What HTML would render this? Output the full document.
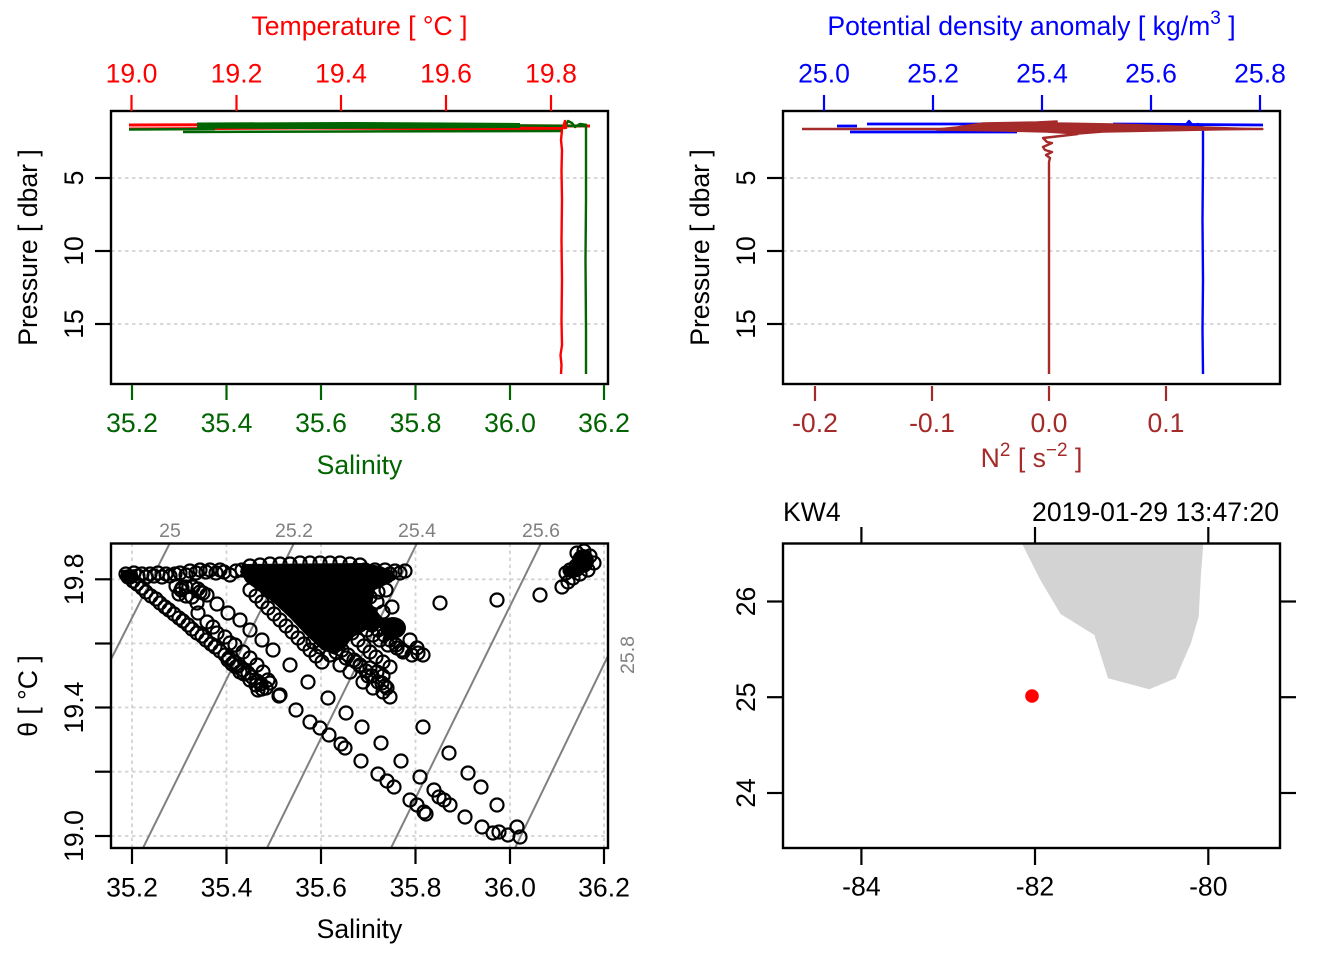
<!DOCTYPE html>
<html><head><meta charset="utf-8"><style>
html,body{margin:0;padding:0;background:#fff;}
svg{display:block;}
text{font-family:"Liberation Sans",Arial,sans-serif;font-size:26.6px;}
text.iso{font-size:19.5px;fill:#808080;}
</style></head><body>
<svg width="1344" height="960" viewBox="0 0 1344 960" xmlns="http://www.w3.org/2000/svg">
<rect width="1344" height="960" fill="#fff"/>
<defs>
<clipPath id="cTS"><rect x="111" y="543.5" width="497" height="304.5"/></clipPath>
<clipPath id="cTL"><rect x="111" y="111" width="497" height="273"/></clipPath>
<clipPath id="cTR"><rect x="783" y="111" width="497" height="273"/></clipPath>
<clipPath id="cMap"><rect x="783" y="543.5" width="497" height="304.5"/></clipPath>
</defs>

<!-- ================= TOP LEFT ================= -->
<g stroke="#D3D3D3" stroke-width="1.8" stroke-dasharray="3.5,3.5">
<line x1="111" y1="178" x2="608" y2="178"/><line x1="111" y1="251" x2="608" y2="251"/><line x1="111" y1="324" x2="608" y2="324"/>
</g>
<g clip-path="url(#cTL)" fill="none" stroke-linejoin="round">
<path d="M129,125 L300,124.5 L450,125.5 L590,126" stroke="#FF0000" stroke-width="3"/>
<path d="M129,129 L300,128 L420,128.5 L563,130" stroke="#FF0000" stroke-width="3"/>
<path d="M420,127 L500,127.5 L565,128" stroke="#FF0000" stroke-width="2.5"/>
<polygon points="197,122.5 350,122 450,122.5 520,123 520,128 430,128.5 300,129 197,128.5" fill="#006400" stroke="none"/>
<path d="M129,129.5 L215,129" stroke="#006400" stroke-width="2.5"/>
<path d="M183,132 L350,131.5 L563,131" stroke="#006400" stroke-width="2.5"/>
<path d="M433,125 L520,125.5 L587,126" stroke="#006400" stroke-width="2.5"/>
<path d="M565,127 L568,121 L572,123 L575,127 L580,124 L587,125" stroke="#006400" stroke-width="2.5"/>
<path d="M563,128 L565,121 L566,129" stroke="#FF0000" stroke-width="2.5"/>
<polyline points="562,130 561,140 562,150 561.5,170 562,200 561.5,240 562,280 561.5,320 562,345 560.5,355 561.5,365 561,374" stroke="#FF0000" stroke-width="2.4"/>
<polyline points="586,126 586,200 585.5,260 586,330 586,374" stroke="#006400" stroke-width="2.4"/>
</g>
<rect x="111" y="111" width="497" height="273" fill="none" stroke="#000" stroke-width="2.4"/>
<g stroke="#FF0000" stroke-width="2.2">
<line x1="131.5" y1="95" x2="131.5" y2="111"/><line x1="236.5" y1="95" x2="236.5" y2="111"/><line x1="341" y1="95" x2="341" y2="111"/><line x1="446" y1="95" x2="446" y2="111"/><line x1="551" y1="95" x2="551" y2="111"/>
</g>
<g fill="#FF0000" text-anchor="middle">
<text x="131.5" y="82.7">19.0</text><text x="236.5" y="82.7">19.2</text><text x="341" y="82.7">19.4</text><text x="446" y="82.7">19.6</text><text x="551" y="82.7">19.8</text>
<text x="359.5" y="35">Temperature [ °C ]</text>
</g>
<g stroke="#006400" stroke-width="2.2">
<line x1="132" y1="385" x2="132" y2="400"/><line x1="226.5" y1="385" x2="226.5" y2="400"/><line x1="321" y1="385" x2="321" y2="400"/><line x1="415.5" y1="385" x2="415.5" y2="400"/><line x1="510" y1="385" x2="510" y2="400"/><line x1="604" y1="385" x2="604" y2="400"/>
</g>
<g fill="#006400" text-anchor="middle">
<text x="132" y="432">35.2</text><text x="226.5" y="432">35.4</text><text x="321" y="432">35.6</text><text x="415.5" y="432">35.8</text><text x="510" y="432">36.0</text><text x="604" y="432">36.2</text>
<text x="359.5" y="474">Salinity</text>
</g>
<g stroke="#000" stroke-width="2.2">
<line x1="95" y1="178" x2="111" y2="178"/><line x1="95" y1="251" x2="111" y2="251"/><line x1="95" y1="324" x2="111" y2="324"/>
</g>
<g text-anchor="middle">
<text transform="translate(83,178) rotate(-90)">5</text>
<text transform="translate(83,251) rotate(-90)">10</text>
<text transform="translate(83,324) rotate(-90)">15</text>
<text transform="translate(37,247.5) rotate(-90)">Pressure [ dbar ]</text>
</g>

<!-- ================= TOP RIGHT ================= -->
<g stroke="#D3D3D3" stroke-width="1.8" stroke-dasharray="3.5,3.5">
<line x1="783" y1="178" x2="1280" y2="178"/><line x1="783" y1="251" x2="1280" y2="251"/><line x1="783" y1="324" x2="1280" y2="324"/>
</g>
<g clip-path="url(#cTR)" fill="none" stroke-linejoin="round">
<path d="M837,126 L857,126" stroke="#0000FF" stroke-width="2.8"/>
<path d="M867,124 L983,124" stroke="#0000FF" stroke-width="2.8"/>
<path d="M850,132 L1017,132" stroke="#0000FF" stroke-width="2.8"/>
<path d="M1113,124 L1263,125" stroke="#0000FF" stroke-width="2.8"/>
<path d="M1170,126 L1200,126" stroke="#0000FF" stroke-width="2.4"/>
<path d="M1185,126 L1189,121 L1193,126 L1198,124 L1203,127" stroke="#0000FF" stroke-width="2.4"/>
<polyline points="1203,127 1203,160 1202.5,220 1203,280 1202.5,330 1203,374" stroke="#0000FF" stroke-width="2.4"/>
<path d="M802,129 L1263,129" stroke="#A52A2A" stroke-width="2.6"/>
<polygon points="937,129 957,127 983,123 1037,122 1057,121 1057,123 1113,124 1263,129 1103,132 1078,134 1047,132 1003,131 937,130" fill="#A52A2A" stroke="#A52A2A" stroke-width="1.5"/>
<polyline points="1078,134 1043,138 1047,142 1052,143 1043,147 1045,150 1052,152 1046,155 1050,158 1049,162 1049,374" stroke="#A52A2A" stroke-width="2.4"/>
</g>
<rect x="783" y="111" width="497" height="273" fill="none" stroke="#000" stroke-width="2.4"/>
<g stroke="#0000FF" stroke-width="2.2">
<line x1="824" y1="95" x2="824" y2="111"/><line x1="933" y1="95" x2="933" y2="111"/><line x1="1042" y1="95" x2="1042" y2="111"/><line x1="1151" y1="95" x2="1151" y2="111"/><line x1="1260" y1="95" x2="1260" y2="111"/>
</g>
<g fill="#0000FF" text-anchor="middle">
<text x="824" y="82.7">25.0</text><text x="933" y="82.7">25.2</text><text x="1042" y="82.7">25.4</text><text x="1151" y="82.7">25.6</text><text x="1260" y="82.7">25.8</text>
<text x="1031.5" y="35">Potential density anomaly [ kg/m<tspan dy="-11" font-size="19">3</tspan><tspan dy="11"> ]</tspan></text>
</g>
<g stroke="#A52A2A" stroke-width="2.2">
<line x1="815" y1="386" x2="815" y2="401"/><line x1="932" y1="386" x2="932" y2="401"/><line x1="1049" y1="386" x2="1049" y2="401"/><line x1="1166" y1="386" x2="1166" y2="401"/>
</g>
<g fill="#A52A2A" text-anchor="middle">
<text x="815" y="432">-0.2</text><text x="932" y="432">-0.1</text><text x="1049" y="432">0.0</text><text x="1166" y="432">0.1</text>
<text x="1031.5" y="467">N<tspan dy="-11" font-size="19">2</tspan><tspan dy="11"> [ s</tspan><tspan dy="-11" font-size="19">−2</tspan><tspan dy="11"> ]</tspan></text>
</g>
<g stroke="#000" stroke-width="2.2">
<line x1="767" y1="178" x2="783" y2="178"/><line x1="767" y1="251" x2="783" y2="251"/><line x1="767" y1="324" x2="783" y2="324"/>
</g>
<g text-anchor="middle">
<text transform="translate(755,178) rotate(-90)">5</text>
<text transform="translate(755,251) rotate(-90)">10</text>
<text transform="translate(755,324) rotate(-90)">15</text>
<text transform="translate(709,247.5) rotate(-90)">Pressure [ dbar ]</text>
</g>

<!-- ================= TS ================= -->
<g stroke="#D3D3D3" stroke-width="1.8" stroke-dasharray="3.5,3.5">
<line x1="132" y1="543.5" x2="132" y2="848"/><line x1="226.5" y1="543.5" x2="226.5" y2="848"/><line x1="321" y1="543.5" x2="321" y2="848"/><line x1="415.5" y1="543.5" x2="415.5" y2="848"/><line x1="510" y1="543.5" x2="510" y2="848"/><line x1="604" y1="543.5" x2="604" y2="848"/>
<line x1="111" y1="579.3" x2="608" y2="579.3"/><line x1="111" y1="643.5" x2="608" y2="643.5"/><line x1="111" y1="707.5" x2="608" y2="707.5"/><line x1="111" y1="771.7" x2="608" y2="771.7"/><line x1="111" y1="836" x2="608" y2="836"/>
</g>
<g clip-path="url(#cTS)" stroke="#808080" stroke-width="2">
<line x1="175" y1="533" x2="100" y2="681"/>
<line x1="299" y1="533" x2="143" y2="848"/>
<line x1="422" y1="533" x2="267" y2="848"/>
<line x1="546" y1="533" x2="391" y2="848"/>
<line x1="620" y1="631" x2="515" y2="848"/>
</g>
<g text-anchor="middle">
<text class="iso" x="170" y="537">25</text><text class="iso" x="294" y="537">25.2</text><text class="iso" x="417" y="537">25.4</text><text class="iso" x="541" y="537">25.6</text>
<text class="iso" transform="translate(634,655) rotate(-90)">25.8</text>
</g>
<g clip-path="url(#cTS)">
<polygon points="121,570 137,569 139,580 131,585 121,580" fill="#000"/>
<polygon points="242,564 365,563 380,566 395,572 392,582 375,590 372,605 380,615 385,620 380,628 365,630 352,638 345,648 335,655 322,650 305,634 290,618 275,604 260,592 246,582 240,572" fill="#000"/>
<ellipse cx="393" cy="628" rx="13" ry="11" fill="#000"/>
<ellipse cx="583" cy="561" rx="11" ry="12" fill="#000"/>
<ellipse cx="574" cy="571" rx="10" ry="6.5" fill="#000"/>
<g fill="none" stroke="#000" stroke-width="2.2">
<!-- top band left -->
<circle cx="126" cy="574" r="6.5"/><circle cx="130" cy="577" r="6.5"/><circle cx="134" cy="573" r="6.5"/><circle cx="138" cy="576" r="6.5"/><circle cx="142" cy="574" r="6.5"/><circle cx="146" cy="577" r="6.5"/><circle cx="150" cy="574" r="6.5"/><circle cx="154" cy="576" r="6.5"/><circle cx="158" cy="573" r="6.5"/><circle cx="162" cy="577" r="6.5"/><circle cx="166" cy="574" r="6.5"/><circle cx="170" cy="576" r="6.5"/><circle cx="175" cy="574" r="6.5"/><circle cx="180" cy="573" r="6.5"/><circle cx="186" cy="575" r="6.5"/><circle cx="190" cy="571" r="6.5"/><circle cx="196" cy="573" r="6.5"/><circle cx="200" cy="570" r="6.5"/><circle cx="206" cy="572" r="6.5"/><circle cx="210" cy="570" r="6.5"/><circle cx="216" cy="573" r="6.5"/><circle cx="220" cy="570" r="6.5"/><circle cx="224" cy="572" r="6.5"/><circle cx="230" cy="575" r="6.5"/><circle cx="236" cy="571" r="6.5"/><circle cx="242" cy="570" r="6.5"/>
<!-- small cluster -->
<circle cx="176" cy="586" r="6.5"/><circle cx="181" cy="590" r="6.5"/><circle cx="186" cy="587" r="6.5"/><circle cx="193" cy="587" r="6.5"/><circle cx="198" cy="589" r="6.5"/><circle cx="203" cy="593" r="6.5"/><circle cx="179" cy="594" r="6.5"/><circle cx="186" cy="596" r="6.5"/>
<!-- chain A -->
<circle cx="128" cy="577" r="6.5"/><circle cx="133" cy="581" r="6.5"/><circle cx="137" cy="584" r="6.5"/><circle cx="142" cy="588" r="6.5"/><circle cx="146" cy="592" r="6.5"/><circle cx="151" cy="596" r="6.5"/><circle cx="156" cy="599" r="6.5"/><circle cx="160" cy="603" r="6.5"/><circle cx="165" cy="607" r="6.5"/><circle cx="169" cy="610" r="6.5"/><circle cx="174" cy="614" r="6.5"/><circle cx="179" cy="618" r="6.5"/><circle cx="183" cy="621" r="6.5"/><circle cx="188" cy="625" r="6.5"/><circle cx="192" cy="629" r="6.5"/><circle cx="197" cy="633" r="6.5"/><circle cx="202" cy="636" r="6.5"/><circle cx="206" cy="640" r="6.5"/><circle cx="211" cy="644" r="6.5"/><circle cx="215" cy="647" r="6.5"/><circle cx="220" cy="651" r="6.5"/><circle cx="225" cy="655" r="6.5"/><circle cx="229" cy="658" r="6.5"/><circle cx="234" cy="662" r="6.5"/><circle cx="238" cy="666" r="6.5"/><circle cx="243" cy="670" r="6.5"/><circle cx="248" cy="673" r="6.5"/><circle cx="252" cy="677" r="6.5"/><circle cx="257" cy="681" r="6.5"/><circle cx="261" cy="684" r="6.5"/><circle cx="266" cy="688" r="6.5"/>
<circle cx="228" cy="660" r="6.5"/><circle cx="236" cy="667" r="6.5"/><circle cx="244" cy="674" r="6.5"/><circle cx="250" cy="680" r="6.5"/><circle cx="256" cy="685" r="6.5"/><circle cx="262" cy="689" r="6.5"/><circle cx="240" cy="672" r="6.5"/><circle cx="232" cy="664" r="6.5"/>
<!-- chain B upper -->
<circle cx="182" cy="588" r="6.5"/><circle cx="192" cy="597" r="6.5"/><circle cx="197" cy="603" r="6.5"/><circle cx="198" cy="613" r="6.5"/><circle cx="207" cy="622" r="6.5"/><circle cx="213" cy="627" r="6.5"/><circle cx="217" cy="633" r="6.5"/><circle cx="225" cy="637" r="6.5"/><circle cx="230" cy="643" r="6.5"/><circle cx="235" cy="645" r="6.5"/><circle cx="243" cy="652" r="6.5"/><circle cx="250" cy="658" r="6.5"/><circle cx="257" cy="665" r="6.5"/><circle cx="263" cy="672" r="6.5"/><circle cx="268" cy="680" r="6.5"/><circle cx="270" cy="683" r="6.5"/><circle cx="280" cy="695" r="6.5"/>
<!-- chain C upper -->
<circle cx="200" cy="592" r="6.5"/><circle cx="207" cy="595" r="6.5"/><circle cx="217" cy="604" r="6.5"/><circle cx="228" cy="613" r="6.5"/><circle cx="240" cy="620" r="6.5"/><circle cx="250" cy="630" r="6.5"/><circle cx="262" cy="640" r="6.5"/><circle cx="273" cy="650" r="6.5"/><circle cx="290" cy="665" r="6.5"/><circle cx="308" cy="682" r="6.5"/><circle cx="328" cy="698" r="6.5"/>
<!-- chain C lower -->
<circle cx="346" cy="713" r="6.5"/><circle cx="362" cy="727" r="6.5"/><circle cx="381" cy="743" r="6.5"/><circle cx="401" cy="761" r="6.5"/><circle cx="420" cy="777" r="6.5"/><circle cx="434" cy="790" r="6.5"/><circle cx="439" cy="797" r="6.5"/><circle cx="444" cy="800" r="6.5"/><circle cx="450" cy="805" r="6.5"/><circle cx="465" cy="817" r="6.5"/><circle cx="482" cy="827" r="6.5"/><circle cx="493" cy="833" r="6.5"/><circle cx="499" cy="832" r="6.5"/><circle cx="508" cy="835" r="6.5"/><circle cx="520" cy="837" r="6.5"/><circle cx="517" cy="827" r="6.5"/>
<!-- chain B lower -->
<circle cx="258" cy="690" r="6.5"/><circle cx="279" cy="696" r="6.5"/><circle cx="296" cy="710" r="6.5"/><circle cx="310" cy="722" r="6.5"/><circle cx="320" cy="728" r="6.5"/><circle cx="329" cy="735" r="6.5"/><circle cx="341" cy="744" r="6.5"/><circle cx="345" cy="748" r="6.5"/><circle cx="361" cy="761" r="6.5"/><circle cx="378" cy="774" r="6.5"/><circle cx="387" cy="781" r="6.5"/><circle cx="394" cy="787" r="6.5"/><circle cx="410" cy="800" r="6.5"/><circle cx="417" cy="805" r="6.5"/><circle cx="424" cy="812" r="6.5"/><circle cx="426" cy="814" r="6.5"/>
<!-- chain D -->
<circle cx="313" cy="642" r="6.5"/><circle cx="320" cy="647" r="6.5"/><circle cx="330" cy="655" r="6.5"/><circle cx="340" cy="665" r="6.5"/><circle cx="350" cy="672" r="6.5"/><circle cx="363" cy="682" r="6.5"/><circle cx="373" cy="688" r="6.5"/><circle cx="383" cy="692" r="6.5"/><circle cx="390" cy="697" r="6.5"/>
<circle cx="360" cy="665" r="6.5"/><circle cx="370" cy="668" r="6.5"/><circle cx="377" cy="672" r="6.5"/><circle cx="383" cy="676" r="6.5"/><circle cx="382" cy="683" r="6.5"/><circle cx="387" cy="688" r="6.5"/><circle cx="368" cy="676" r="6.5"/><circle cx="356" cy="662" r="6.5"/><circle cx="346" cy="658" r="6.5"/><circle cx="336" cy="652" r="6.5"/>
<circle cx="423" cy="727" r="6.5"/><circle cx="449" cy="753" r="6.5"/><circle cx="468" cy="773" r="6.5"/><circle cx="481" cy="787" r="6.5"/><circle cx="497" cy="805" r="6.5"/>
<!-- right arm -->
<circle cx="340" cy="612" r="6.5"/><circle cx="347" cy="617" r="6.5"/><circle cx="353" cy="622" r="6.5"/><circle cx="360" cy="625" r="6.5"/><circle cx="367" cy="630" r="6.5"/><circle cx="373" cy="635" r="6.5"/><circle cx="380" cy="640" r="6.5"/><circle cx="388" cy="645" r="6.5"/><circle cx="397" cy="648" r="6.5"/><circle cx="403" cy="652" r="6.5"/><circle cx="412" cy="655" r="6.5"/><circle cx="418" cy="653" r="6.5"/><circle cx="423" cy="655" r="6.5"/><circle cx="410" cy="640" r="6.5"/><circle cx="417" cy="648" r="6.5"/>
<circle cx="392" cy="607" r="6.5"/><circle cx="370" cy="597" r="6.5"/><circle cx="377" cy="602" r="6.5"/><circle cx="383" cy="612" r="6.5"/><circle cx="386" cy="590" r="6.5"/><circle cx="378" cy="592" r="6.5"/><circle cx="358" cy="605" r="6.5"/><circle cx="350" cy="612" r="6.5"/>
<!-- extra fill chains -->
<circle cx="330" cy="590" r="6.5"/><circle cx="336" cy="595" r="6.5"/><circle cx="342" cy="600" r="6.5"/><circle cx="348" cy="605" r="6.5"/><circle cx="354" cy="610" r="6.5"/><circle cx="360" cy="615" r="6.5"/><circle cx="366" cy="620" r="6.5"/><circle cx="372" cy="625" r="6.5"/><circle cx="378" cy="630" r="6.5"/><circle cx="384" cy="635" r="6.5"/><circle cx="390" cy="640" r="6.5"/><circle cx="396" cy="645" r="6.5"/><circle cx="402" cy="650" r="6.5"/>
<circle cx="300" cy="612" r="6.5"/><circle cx="306" cy="618" r="6.5"/><circle cx="312" cy="623" r="6.5"/><circle cx="318" cy="628" r="6.5"/><circle cx="324" cy="634" r="6.5"/><circle cx="330" cy="639" r="6.5"/><circle cx="336" cy="644" r="6.5"/><circle cx="342" cy="650" r="6.5"/><circle cx="348" cy="655" r="6.5"/><circle cx="354" cy="660" r="6.5"/><circle cx="360" cy="666" r="6.5"/><circle cx="366" cy="671" r="6.5"/><circle cx="372" cy="676" r="6.5"/><circle cx="378" cy="682" r="6.5"/><circle cx="385" cy="686" r="6.5"/>
<circle cx="345" cy="628" r="6.5"/><circle cx="352" cy="633" r="6.5"/><circle cx="358" cy="640" r="6.5"/><circle cx="364" cy="646" r="6.5"/><circle cx="370" cy="652" r="6.5"/><circle cx="376" cy="657" r="6.5"/><circle cx="383" cy="662" r="6.5"/><circle cx="390" cy="667" r="6.5"/>
<!-- top band right -->
<circle cx="365" cy="570" r="6.5"/><circle cx="370" cy="574" r="6.5"/><circle cx="375" cy="570" r="6.5"/><circle cx="380" cy="574" r="6.5"/><circle cx="385" cy="570" r="6.5"/><circle cx="390" cy="574" r="6.5"/><circle cx="395" cy="571" r="6.5"/><circle cx="400" cy="573" r="6.5"/><circle cx="405" cy="571" r="6.5"/>
<circle cx="250" cy="566" r="6.5"/><circle cx="260" cy="565" r="6.5"/><circle cx="270" cy="564" r="6.5"/><circle cx="280" cy="564" r="6.5"/><circle cx="290" cy="564" r="6.5"/><circle cx="300" cy="563" r="6.5"/><circle cx="310" cy="563" r="6.5"/><circle cx="320" cy="563" r="6.5"/><circle cx="330" cy="563" r="6.5"/><circle cx="340" cy="563" r="6.5"/><circle cx="350" cy="564" r="6.5"/><circle cx="360" cy="565" r="6.5"/>
<!-- chain H -->
<circle cx="250" cy="590" r="6.5"/><circle cx="256" cy="596" r="6.5"/><circle cx="262" cy="602" r="6.5"/><circle cx="268" cy="608" r="6.5"/><circle cx="274" cy="614" r="6.5"/><circle cx="280" cy="620" r="6.5"/><circle cx="286" cy="626" r="6.5"/><circle cx="292" cy="632" r="6.5"/><circle cx="298" cy="638" r="6.5"/><circle cx="304" cy="644" r="6.5"/><circle cx="310" cy="650" r="6.5"/><circle cx="316" cy="656" r="6.5"/><circle cx="322" cy="662" r="6.5"/>
<!-- sparse right -->
<circle cx="440" cy="603" r="6.5"/><circle cx="497" cy="600" r="6.5"/><circle cx="540" cy="595" r="6.5"/><circle cx="562" cy="587" r="6.5"/><circle cx="568" cy="582" r="6.5"/><circle cx="573" cy="578" r="6.5"/><circle cx="566" cy="573" r="6.5"/>
<circle cx="570" cy="570" r="6.5"/><circle cx="576" cy="566" r="6.5"/><circle cx="590" cy="556" r="6.5"/><circle cx="594" cy="563" r="6.5"/><circle cx="588" cy="570" r="6.5"/><circle cx="580" cy="574" r="6.5"/><circle cx="577" cy="553" r="6.5"/><circle cx="584" cy="551" r="6.5"/>
</g>
</g>
<rect x="111" y="543.5" width="497" height="304.5" fill="none" stroke="#000" stroke-width="2.4"/>
<g stroke="#000" stroke-width="2.2">
<line x1="95" y1="579.3" x2="111" y2="579.3"/><line x1="95" y1="643.5" x2="111" y2="643.5"/><line x1="95" y1="707.5" x2="111" y2="707.5"/><line x1="95" y1="771.7" x2="111" y2="771.7"/><line x1="95" y1="836" x2="111" y2="836"/>
<line x1="132" y1="849" x2="132" y2="864"/><line x1="226.5" y1="849" x2="226.5" y2="864"/><line x1="321" y1="849" x2="321" y2="864"/><line x1="415.5" y1="849" x2="415.5" y2="864"/><line x1="510" y1="849" x2="510" y2="864"/><line x1="604" y1="849" x2="604" y2="864"/>
</g>
<g text-anchor="middle">
<text transform="translate(83,579.3) rotate(-90)">19.8</text>
<text transform="translate(83,707.5) rotate(-90)">19.4</text>
<text transform="translate(83,836) rotate(-90)">19.0</text>
<text transform="translate(37,696) rotate(-90)">θ [ °C ]</text>
<text x="132" y="896.5">35.2</text><text x="226.5" y="896.5">35.4</text><text x="321" y="896.5">35.6</text><text x="415.5" y="896.5">35.8</text><text x="510" y="896.5">36.0</text><text x="604" y="896.5">36.2</text>
<text x="359.5" y="938">Salinity</text>
</g>

<!-- ================= MAP ================= -->
<g clip-path="url(#cMap)">
<polygon points="1021.7,543 1203.4,543 1201,573.3 1198.7,616.7 1190.9,643.3 1175.7,678.3 1149.3,689.3 1108,678.3 1094.4,635 1060.6,614 1040.3,580" fill="#D3D3D3"/>
</g>
<circle cx="1032" cy="696" r="6.8" fill="#FF0000"/>
<rect x="783" y="543.5" width="497" height="304.5" fill="none" stroke="#000" stroke-width="2.4"/>
<g stroke="#000" stroke-width="2.2">
<line x1="861.4" y1="527" x2="861.4" y2="543"/><line x1="1035" y1="527" x2="1035" y2="543"/><line x1="1208.3" y1="527" x2="1208.3" y2="543"/>
<line x1="861.4" y1="849" x2="861.4" y2="865"/><line x1="1035" y1="849" x2="1035" y2="865"/><line x1="1208.3" y1="849" x2="1208.3" y2="865"/>
<line x1="767" y1="601.5" x2="783" y2="601.5"/><line x1="767" y1="697.2" x2="783" y2="697.2"/><line x1="767" y1="793" x2="783" y2="793"/>
<line x1="1280" y1="601.5" x2="1296" y2="601.5"/><line x1="1280" y1="697.2" x2="1296" y2="697.2"/><line x1="1280" y1="793" x2="1296" y2="793"/>
</g>
<g text-anchor="middle">
<text x="861.4" y="895.5">-84</text><text x="1035" y="895.5">-82</text><text x="1208.3" y="895.5">-80</text>
<text transform="translate(755,601.5) rotate(-90)">26</text>
<text transform="translate(755,697.2) rotate(-90)">25</text>
<text transform="translate(755,793) rotate(-90)">24</text>
</g>
<text x="783" y="521">KW4</text>
<text x="1279" y="521" text-anchor="end">2019-01-29 13:47:20</text>
</svg>
</body></html>
